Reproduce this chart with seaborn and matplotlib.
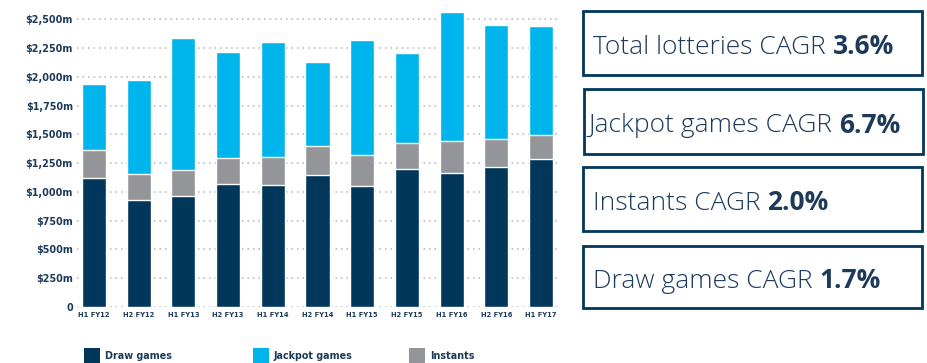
import matplotlib
matplotlib.use("Agg")
import matplotlib.pyplot as plt
from matplotlib.patches import Rectangle
import seaborn as sns
import pandas as pd

# Half-year lottery revenue by segment ($m)
periods = ["H1 FY12", "H2 FY12", "H1 FY13", "H2 FY13", "H1 FY14", "H2 FY14",
           "H1 FY15", "H2 FY15", "H1 FY16", "H2 FY16", "H1 FY17"]
draw_games = [1120, 929, 963, 1068, 1059, 1146, 1050, 1198, 1163, 1215, 1285]
instants = [243, 228, 229, 228, 246, 254, 269, 226, 278, 243, 208]
jackpot_games = [573, 813, 1143, 917, 995, 727, 999, 781, 1120, 990, 946]

y_ticks = [0, 250, 500, 750, 1000, 1250, 1500, 1750, 2000, 2250, 2500]
y_tick_labels = ["0", "$250m", "$500m", "$750m", "$1,000m", "$1,250m", "$1,500m",
                 "$1,750m", "$2,000m", "$2,250m", "$2,500m"]

cagr_labels = ["Total lotteries CAGR ", "Jackpot games CAGR ", "Instants CAGR ", "Draw games CAGR "]
cagr_values = ["3.6%", "6.7%", "2.0%", "1.7%"]

NAVY = "#00375B"
CYAN = "#00B5EC"
GREY = "#939598"
TEXT = "#1D3A5B"
GRID = "#AEB6C6"

sns.set_theme(style="white")
plt.rcParams["font.family"] = ["DejaVu Sans"]
BOX_FONT = ["Open Sans", "DejaVu Sans"]

df = pd.DataFrame({"period": periods, "draw": draw_games,
                   "instants": instants, "jackpot": jackpot_games})
df["draw_inst"] = df["draw"] + df["instants"]
df["total"] = df["draw_inst"] + df["jackpot"]

W, H = 928, 363
fig = plt.figure(figsize=(W / 100, H / 100), dpi=100)
ax = fig.add_axes([77 / W, 56 / H, (558 - 77) / W, (354 - 56) / H])

for col, color in [("total", CYAN), ("draw_inst", GREY), ("draw", NAVY)]:
    sns.barplot(data=df, x="period", y=col, color=color, width=0.54,
                saturation=1, ax=ax, zorder=3)

ax.set_ylim(0, 2590)
ax.set_xlim(-0.38, 10.38)
ax.set_yticks(y_ticks)
ax.set_yticklabels(y_tick_labels)
ax.set_xlabel("")
ax.set_ylabel("")
for sp in ax.spines.values():
    sp.set_visible(False)
ax.grid(False)
for t in y_ticks:
    ax.axhline(t, color=GRID, linestyle=(0, (1, 2.6)), linewidth=1.1, zorder=1)
ax.tick_params(axis="both", length=0, colors=TEXT)
ax.tick_params(axis="y", pad=3, labelsize=6.9)
ax.tick_params(axis="x", pad=3.5, labelsize=4.9)
for lbl in ax.get_yticklabels() + ax.get_xticklabels():
    lbl.set_fontweight("bold")
    lbl.set_color(TEXT)

# Legend along the bottom
legend_items = [("Draw games", NAVY, 84), ("Jackpot games", CYAN, 253), ("Instants", GREY, 409)]
for name, color, x0 in legend_items:
    fig.patches.append(Rectangle((x0 / W, 0 / H), 16 / W, 15 / H, facecolor=color,
                                 edgecolor="none", transform=fig.transFigure))
    fig.text((x0 + 21) / W, 7 / H, name, fontsize=6.9, fontweight="bold",
             color=TEXT, va="center", ha="left")

# CAGR summary boxes
boxes = [(583, 11, 922, 75), (584, 89, 923, 154), (583, 167, 922, 231), (583, 246, 922, 308)]
text_x = [593, 588, 593, 593]
fig.canvas.draw()
renderer = fig.canvas.get_renderer()
for (x0, y0, x1, y1), tx, lab, val in zip(boxes, text_x, cagr_labels, cagr_values):
    fig.patches.append(Rectangle((x0 / W, 1 - y1 / H), (x1 - x0) / W, (y1 - y0) / H,
                                 facecolor="white", edgecolor=NAVY, linewidth=2,
                                 transform=fig.transFigure))
    yc = 1 - ((y0 + y1) / 2 + 1) / H
    t1 = fig.text(tx / W, yc, lab, fontsize=19, fontweight="light", family=BOX_FONT,
                  color=TEXT, va="center_baseline", ha="left")
    bb = t1.get_window_extent(renderer)
    fig.text(bb.x1 / W, yc, val, fontsize=19, fontweight="bold", family=BOX_FONT,
             color=TEXT, va="center_baseline", ha="left")

fig.savefig("out.png", dpi=100)
